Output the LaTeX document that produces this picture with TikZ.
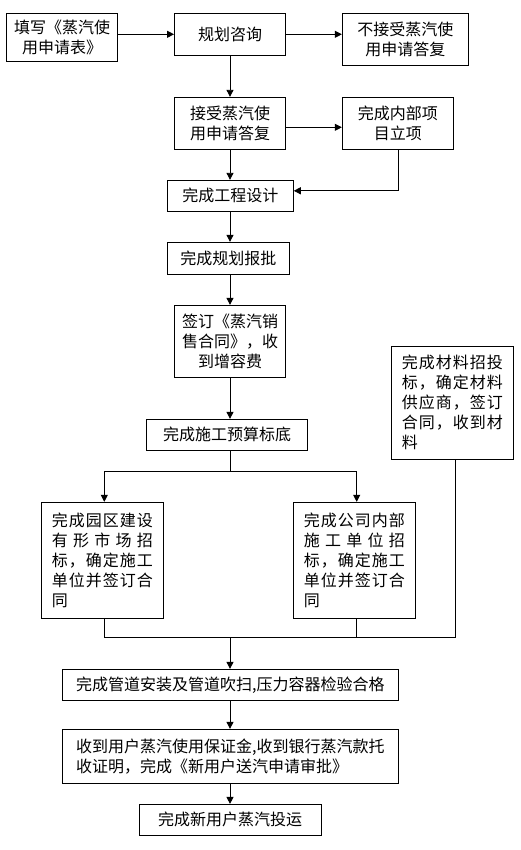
\documentclass[tikz,border=0pt]{standalone}
\usepackage{fontspec}
\newfontfamily\cjk{Noto Sans CJK SC}
\usetikzlibrary{arrows.meta}
\newcommand{\jline}[1]{\hbox to 101pt{#1}}
\begin{document}
\begin{tikzpicture}[x=1pt,y=-1pt,
  box/.style={draw, line width=0.9pt, inner sep=0pt, font=\cjk\fontsize{16}{20}\selectfont, align=center},
  jbox/.style={box, align=left},
  conn/.style={line width=0.9pt},
  arr/.style={conn, -{Triangle[length=7pt,width=7pt]}}]
\useasboundingbox (0,0) rectangle (520,850);
\node[box, minimum width=110.6pt, minimum height=48pt] (fill) at (62,37.3) {填写《蒸汽使\\用申请表》};
\node[box, minimum width=111pt, minimum height=42pt] (consult) at (230,34.3) {规划咨询};
\node[box, minimum width=126pt, minimum height=52pt] (reject) at (405.3,39.3) {不接受蒸汽使\\用申请答复};
\node[box, minimum width=111pt, minimum height=52pt] (accept) at (230,123.3) {接受蒸汽使\\用申请答复};
\node[box, minimum width=111pt, minimum height=52pt] (internal) at (397.8,123.3) {完成内部项\\目立项};
\node[box, minimum width=126pt, minimum height=31pt] (design) at (230.3,195.8) {完成工程设计};
\node[box, minimum width=122pt, minimum height=32pt] (approve) at (228.3,258.3) {完成规划报批};
\node[box, minimum width=111pt, minimum height=72pt] (sign) at (230,341.3) {签订《蒸汽销\\售合同》，收\\到增容费};
\node[box, minimum width=160.6pt, minimum height=31pt] (budget) at (227,434.8) {完成施工预算标底};
\node[jbox, minimum width=122pt, minimum height=113.3pt] (material) at (452.3,402.7) {%
\jline{完\hfill 成\hfill 材\hfill 料\hfill 招\hfill 投}\\
\jline{标\hfill ，\hfill 确\hfill 定\hfill 材\hfill 料}\\
\jline{供\hfill 应\hfill 商\hfill ，\hfill 签\hfill 订}\\
\jline{合\hfill 同\hfill ，\hfill 收\hfill 到\hfill 材}\\
\jline{料\hfill}};
\node[jbox, minimum width=122pt, minimum height=116pt] (left) at (102.3,560.3) {%
\jline{完\hfill 成\hfill 园\hfill 区\hfill 建\hfill 设}\\
\jline{有\hfill 形\hfill 市\hfill 场\hfill 招}\\
\jline{标\hfill ，\hfill 确\hfill 定\hfill 施\hfill 工}\\
\jline{单\hfill 位\hfill 并\hfill 签\hfill 订\hfill 合}\\
\jline{同\hfill}};
\node[jbox, minimum width=122pt, minimum height=116pt] (right) at (354.3,560.3) {%
\jline{完\hfill 成\hfill 公\hfill 司\hfill 内\hfill 部}\\
\jline{施\hfill 工\hfill 单\hfill 位\hfill 招}\\
\jline{标\hfill ，\hfill 确\hfill 定\hfill 施\hfill 工}\\
\jline{单\hfill 位\hfill 并\hfill 签\hfill 订\hfill 合}\\
\jline{同\hfill}};
\node[box, minimum width=336pt, minimum height=31pt] (pipe) at (230.3,684.8) {完成管道安装及管道吹扫,压力容器检验合格};
\node[jbox, minimum width=336pt, minimum height=54pt] (deposit) at (230.3,756.3) {收到用户蒸汽使用保证金,收到银行蒸汽款托\\收证明，完成《新用户送汽申请审批》};
\node[box, minimum width=181.7pt, minimum height=30.7pt] (final) at (230.2,819.7) {完成新用户蒸汽投运};
% connectors
\draw[arr] (fill.east |- consult.west) -- (consult.west);
\draw[arr] (consult.east) -- (consult.east -| reject.west);
\draw[arr] (consult.south) -- (accept.north);
\draw[arr] ([yshift=-4pt]accept.east) -- ([yshift=-4pt]accept.east -| internal.west);
\draw[arr] ([xshift=0.5pt]internal.south) |- ([yshift=5pt]design.east);
\draw[arr] (accept.south) -- (accept.south |- design.north);
\draw[arr] (accept.south |- design.south) -- (accept.south |- approve.north);
\draw[arr] (accept.south |- approve.south) -- (sign.north);
\draw[arr] (sign.south) -- (sign.south |- budget.north);
\coordinate (split) at (230,471);
\coordinate (sL) at (104.3,471);
\coordinate (sR) at (356.7,471);
\draw[conn] (sign.south |- budget.south) -- (split);
\draw[conn] (sL) -- (sR);
\draw[arr] (sL) -- (sL |- left.north);
\draw[arr] (sR) -- (sR |- right.north);
\coordinate (mL) at (104.3,637);
\coordinate (mR2) at (356.7,637);
\coordinate (mR) at (455,637);
\coordinate (merge) at (230,637);
\draw[conn] (mL |- left.south) -- (mL) -- (mR) -- (mR |- material.south);
\draw[conn] (mR2 |- right.south) -- (mR2);
\draw[arr] (merge) -- (merge |- pipe.north);
\draw[arr] (merge |- pipe.south) -- (merge |- deposit.north);
\draw[arr] (merge |- deposit.south) -- (merge |- final.north);
\end{tikzpicture}
\end{document}
